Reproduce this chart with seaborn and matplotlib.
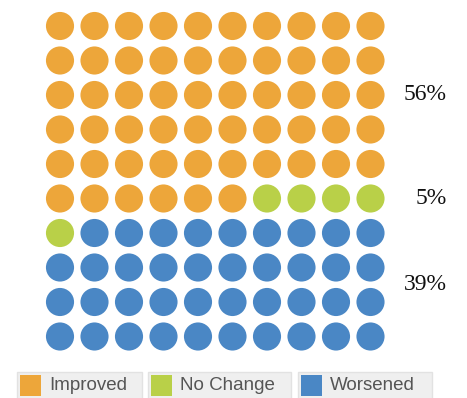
import matplotlib
matplotlib.use("Agg")
import matplotlib.pyplot as plt
import seaborn as sns
import pandas as pd
import numpy as np
from matplotlib.patches import Rectangle

categories = ["Improved", "No Change", "Worsened"]
counts = [56, 5, 39]
colors = ["#EDA63A", "#B9D048", "#4A87C5"]
pct_labels = ["56%", "5%", "39%"]
label_rows = [2, 5, 7.5]

n_cols = 10
cells = []
for cat, c in zip(categories, counts):
    cells += [cat] * c
idx = np.arange(len(cells))
df = pd.DataFrame({"col": idx % n_cols, "row": idx // n_cols, "cat": cells})

sns.set_theme(style="white")
fig = plt.figure(figsize=(4.67, 3.98), dpi=100)
ax = fig.add_axes([0, 0, 1, 1])
sp = 34.5
ax.set_xlim(-60 / sp, (467 - 60) / sp)
ax.set_ylim((398 - 26) / sp, -26 / sp)
sns.scatterplot(data=df, x="col", y="row", hue="cat", hue_order=categories,
                palette=colors, s=410, linewidth=0, legend=False, ax=ax)
ax.set_axis_off()

for lab, r in zip(pct_labels, label_rows):
    ax.text((447 - 60) / sp, r, lab, ha="right", va="center",
            fontsize=17, family="Liberation Serif", color="#111111")

# legend boxes (figure pixel coordinates)
W, H = 467, 398
boxes = [(17, 142), (148, 291), (298, 432)]
for (x0, x1), cat, col in zip(boxes, categories, colors):
    fig.patches.append(Rectangle((x0 / W, 1 - 400 / H), (x1 - x0) / W, 28 / H,
                                 transform=fig.transFigure, facecolor="#EFEFEF",
                                 edgecolor="#E2E2E2", linewidth=1))
    fig.patches.append(Rectangle(((x0 + 3) / W, 1 - 396 / H), 21 / W, 21 / H,
                                 transform=fig.transFigure, facecolor=col,
                                 edgecolor="none"))
    fig.text((x0 + 32) / W, 1 - 385.5 / H, cat, ha="left", va="center",
             fontsize=13.5, family="Liberation Sans", color="#555555")

fig.savefig("out.png", dpi=100)
